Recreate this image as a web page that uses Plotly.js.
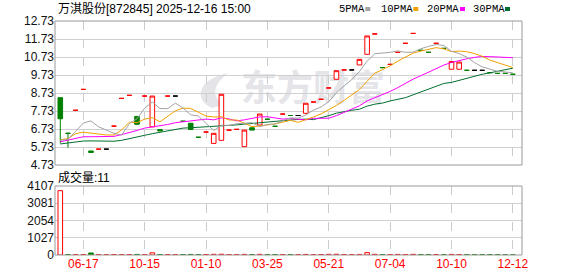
<!DOCTYPE html>
<html><head><meta charset="utf-8">
<script src="https://cdn.plot.ly/plotly-3.0.1.min.js"></script>
<style>html,body{margin:0;padding:0;background:#fff;overflow:hidden}#chart{width:578px;height:276px}</style>
</head><body><div id="chart"></div>
<script>
// ---- data ----
const tickIdx = [3, 11, 19, 27, 35, 43, 51, 59];
const tickLabels = ['06-17', '10-15', '01-10', '03-25', '05-21', '07-04', '10-10', '12-12'];
const priceTicks = [4.73, 5.73, 6.73, 7.73, 8.73, 9.73, 10.73, 11.73, 12.73];
const volTicks = [0, 1027, 2054, 3081, 4107];

const openP = [8.47,6.49,7.77,8.93,5.51,5.61,5.61,6.89,8.43,8.60,
  7.43,8.56,6.85,6.70,8.56,8.56,7.16,7.05,6.27,6.56,
  5.93,6.10,6.67,6.71,5.75,6.80,6.95,7.27,6.88,7.56,
  7.48,7.48,7.60,8.23,8.38,9.01,9.49,10.01,10.01,10.29,
  10.88,12.01,10.14,10.32,10.99,11.49,12.04,11.10,10.99,11.49,
  11.21,10.05,10.05,9.99,9.99,9.99,9.86,9.82,9.82,9.77];
const closeP = [7.30,6.49,7.77,8.93,5.43,5.61,5.61,6.89,8.43,8.60,
  6.99,8.56,8.56,6.62,8.56,8.56,7.16,6.70,6.27,6.56,
  6.49,8.66,6.67,6.71,6.67,6.67,7.56,7.27,6.88,7.56,
  7.48,7.48,8.16,8.23,8.38,9.01,9.97,10.01,10.01,10.60,
  11.90,12.01,10.14,10.32,10.99,11.49,12.04,11.10,10.99,11.49,
  11.21,10.48,10.45,9.99,9.99,9.99,9.86,9.82,9.82,9.77];
const highP = [8.47,6.49,7.77,8.93,5.51,5.61,5.61,6.89,8.43,8.60,
  7.43,8.56,8.56,6.70,8.56,8.56,7.16,7.05,6.27,6.56,
  6.49,8.66,6.67,6.71,6.67,6.80,7.56,7.27,6.88,7.56,
  7.48,7.48,8.16,8.23,8.38,9.01,9.97,10.01,10.01,10.60,
  11.90,12.01,10.14,10.32,10.99,11.49,12.04,11.10,10.99,11.49,
  11.21,10.48,10.45,9.99,9.99,9.99,9.86,9.82,9.82,9.77];
const lowP = [5.93,5.69,7.77,8.93,5.43,5.61,5.61,6.89,8.43,8.60,
  6.99,8.56,6.85,6.62,8.56,8.56,7.16,6.70,6.27,6.56,
  5.93,6.10,6.67,6.71,5.75,6.67,6.95,7.27,6.88,7.56,
  7.48,7.48,7.60,8.23,8.38,9.01,9.49,10.01,10.01,10.29,
  10.88,12.01,10.14,10.32,10.99,11.49,12.04,11.10,10.99,11.49,
  11.21,10.05,10.05,9.99,9.99,9.99,9.86,9.82,9.82,9.77];
// candle colour class: up = red, down = green, flat = black
const dir = ['down','down','up','up','down','up','flat','up','up','up',
  'down','up','up','down','up','flat','down','down','down','up',
  'up','up','up','up','up','down','up','down','down','up',
  'down','flat','up','up','up','up','up','up','flat','up',
  'up','up','down','up','up','up','up','down','down','up',
  'down','up','up','down','flat','flat','down','down','down','down'];

const ma5 = [6.10,6.16,6.60,7.06,7.18,6.85,6.67,6.49,6.39,7.03,
  7.30,7.89,8.23,7.87,7.86,8.17,7.89,7.52,7.45,7.05,
  6.64,6.94,6.93,7.02,7.04,7.08,6.86,6.98,7.01,7.19,
  7.35,7.33,7.51,7.78,7.95,8.25,8.75,9.12,9.48,9.92,
  10.50,10.91,10.93,10.99,11.07,10.99,11.00,11.19,11.32,11.42,
  11.37,11.05,10.92,10.72,10.42,10.18,10.06,9.93,9.90,9.85];
const ma10 = [6.12,6.20,6.47,6.55,6.50,6.45,6.40,6.40,6.68,7.11,
  7.08,7.28,7.36,7.13,7.44,7.74,7.89,7.87,7.66,7.45,
  7.40,7.41,7.23,7.23,7.05,6.86,6.90,6.95,7.01,7.11,
  7.21,7.10,7.24,7.40,7.57,7.80,8.04,8.32,8.63,8.93,
  9.38,9.83,10.03,10.24,10.50,10.74,10.95,11.06,11.16,11.25,
  11.18,11.03,11.06,11.02,10.92,10.77,10.56,10.43,10.31,10.14];
const ma20 = [6.02,6.10,6.22,6.30,6.30,6.30,6.30,6.32,6.42,6.52,
  6.65,6.78,6.85,6.88,6.98,7.08,7.13,7.17,7.22,7.28,
  7.24,7.35,7.29,7.18,7.24,7.30,7.40,7.41,7.34,7.28,
  7.31,7.26,7.24,7.32,7.31,7.33,7.47,7.64,7.82,8.02,
  8.29,8.46,8.64,8.82,9.03,9.27,9.50,9.69,9.89,10.09,
  10.28,10.43,10.54,10.63,10.71,10.76,10.75,10.74,10.73,10.69];
const ma30 = [5.90,5.96,6.02,6.06,6.07,6.06,6.05,6.05,6.10,6.18,
  6.28,6.38,6.47,6.55,6.64,6.73,6.78,6.80,6.82,6.84,
  6.86,6.90,6.93,6.96,7.00,7.04,7.07,7.11,7.17,7.23,
  7.23,7.26,7.28,7.25,7.35,7.47,7.61,7.71,7.77,7.83,
  8.00,8.11,8.17,8.29,8.37,8.47,8.63,8.78,8.93,9.10,
  9.26,9.32,9.44,9.55,9.66,9.77,9.85,9.93,10.03,10.11];

const volume = [3830,30,25,30,120,25,20,30,25,30,
  35,25,130,30,25,20,30,35,25,30,
  40,45,25,20,35,30,40,25,30,25,
  30,20,35,25,30,40,45,30,20,35,
  140,40,30,25,35,30,40,30,25,30,
  25,35,30,25,20,20,25,20,15,11];
const volDir = ['up','down','up','up','down','up','up','up','up','up',
  'down','up','up','down','up','up','down','down','down','up',
  'up','up','up','up','up','down','up','down','down','up',
  'down','up','up','up','up','up','up','up','up','up',
  'up','up','down','up','up','up','up','down','down','up',
  'down','up','up','down','down','down','down','down','down','down'];
const lastVolume = 11;

// ---- styling ----
const RED = '#ff0000', GREEN = '#008000', BLACK = '#000000';
const styles = {
  up: {line: RED, fill: '#ffffff'},
  down: {line: GREEN, fill: GREEN},
  flat: {line: BLACK, fill: BLACK}
};
const idx = closeP.map((_, i) => i);
const traces = [];

const maDefs = [
  {name: '30PMA', y: ma30, color: '#006f2e'},
  {name: '20PMA', y: ma20, color: '#ff00ff'},
  {name: '10PMA', y: ma10, color: '#f2a100'},
  {name: '5PMA', y: ma5, color: '#a3a3a3'}
];
maDefs.forEach(m => traces.push({
  type: 'scatter', mode: 'lines', x: idx, y: m.y, name: m.name,
  line: {color: m.color, width: 1}, hoverinfo: 'skip', xaxis: 'x', yaxis: 'y'
}));

['up', 'down', 'flat'].forEach(k => {
  const ids = idx.filter(i => dir[i] === k);
  const s = styles[k];
  const st = {line: {color: s.line, width: 1}, fillcolor: s.fill};
  traces.push({
    type: 'candlestick', x: ids,
    open: ids.map(i => openP[i]), high: ids.map(i => highP[i]),
    low: ids.map(i => lowP[i]), close: ids.map(i => closeP[i]),
    increasing: st, decreasing: st, whiskerwidth: 0,
    hoverinfo: 'skip', xaxis: 'x', yaxis: 'y'
  });
});

['up', 'down'].forEach(k => {
  const ids = idx.filter(i => volDir[i] === k);
  const s = styles[k];
  traces.push({
    type: 'bar', x: ids, y: ids.map(i => volume[i]), width: 0.6,
    marker: {color: s.fill, line: {color: s.line, width: 1}},
    hoverinfo: 'skip', xaxis: 'x', yaxis: 'y2'
  });
});

// pixel -> paper helpers (plot area: x 55..522, y 21..255)
const PX = px => (px - 55) / 467;
const PY = py => (255 - py) / 234;

const FONT = 'Liberation Sans, Arial, Noto Sans CJK SC, sans-serif';
const annotations = [
  {text: '万淇股份[872845] 2025-12-16 15:00', x: PX(56), y: PY(9.5)},
  {text: '成交量:' + lastVolume, x: PX(56), y: PY(177.5)}
].map(a => Object.assign({xref: 'paper', yref: 'paper', xanchor: 'left', yanchor: 'middle',
  showarrow: false, font: {family: FONT, size: 12, color: '#000'}}, a));

const legendItems = [
  {t: '5PMA', tx: 338, sq: 365.3, c: '#a3a3a3'},
  {t: '10PMA', tx: 380, sq: 413.3, c: '#f2a100'},
  {t: '20PMA', tx: 425.5, sq: 460, c: '#ff00ff'},
  {t: '30PMA', tx: 471.5, sq: 505, c: '#006f2e'}
];
const shapes = [];
legendItems.forEach(l => {
  annotations.push({text: l.t, x: PX(l.tx - 1), y: PY(9.5), xref: 'paper', yref: 'paper',
    xanchor: 'left', yanchor: 'middle', showarrow: false,
    font: {family: 'Liberation Mono, DejaVu Sans Mono, monospace', size: 10.5, color: '#000'}});
  shapes.push({type: 'rect', xref: 'paper', yref: 'paper', x0: PX(l.sq), x1: PX(l.sq + 5),
    y0: PY(11), y1: PY(7), fillcolor: l.c, line: {width: 0}});
});

// watermark (behind the data)
shapes.push({type: 'rect', xref: 'paper', yref: 'paper', layer: 'below',
  x0: PX(238), x1: PX(388), y0: PY(110), y1: PY(72), line: {width: 0}, fillcolor: 'rgba(0,0,0,0)',
  label: {text: '东方财富', textposition: 'middle center',
    font: {family: 'Noto Sans CJK SC', size: 36, color: '#e4e4e9', weight: 'bold'}}});
const p = (x, y) => PX(x) + ',' + PY(y);
shapes.push({type: 'path', xref: 'paper', yref: 'paper', layer: 'below',
  path: 'M' + p(212, 108) + ' C' + p(194, 100) + ' ' + p(196, 80) + ' ' + p(228, 73) +
        ' C' + p(214, 84) + ' ' + p(210, 96) + ' ' + p(224, 105) + ' Z',
  fillcolor: '#e4e4e9', line: {width: 0}});

// subplot frames
shapes.push({type: 'rect', xref: 'x domain', yref: 'y domain', x0: 0, x1: 1, y0: 0, y1: 1,
  line: {color: '#999999', width: 1}, layer: 'above'});
shapes.push({type: 'rect', xref: 'x domain', yref: 'y2 domain', x0: 0, x1: 1, y0: 0, y1: 1,
  line: {color: '#999999', width: 1}, layer: 'above'});

const tickFont = {family: 'Liberation Sans, Arial, sans-serif', size: 12, color: '#111'};
const layout = {
  width: 578, height: 276,
  margin: {l: 55, r: 56, t: 21, b: 21, pad: 0},
  paper_bgcolor: '#ffffff', plot_bgcolor: '#ffffff',
  showlegend: false, boxgap: 0.4, boxgroupgap: 0, boxmode: 'overlay',
  xaxis: {
    domain: [0, 1], anchor: 'y2', type: 'linear', range: [-0.69, 60.19],
    tickmode: 'array', tickvals: tickIdx, ticktext: tickLabels,
    tickfont: {family: 'Liberation Sans, Arial, sans-serif', size: 12, color: RED},
    showgrid: true, gridcolor: '#cccccc', griddash: 'dash', gridwidth: 1,
    zeroline: false, showline: false, ticks: '', rangeslider: {visible: false}, fixedrange: true
  },
  yaxis: {
    domain: [PY(165), 1], anchor: 'x', range: [4.73, 12.73],
    tickmode: 'array', tickvals: priceTicks, ticktext: priceTicks.map(v => v.toFixed(2)),
    tickfont: tickFont, showgrid: true, gridcolor: '#d0d0d0', zeroline: false,
    showline: false, ticks: '', fixedrange: true
  },
  yaxis2: {
    domain: [0, PY(186)], anchor: 'x', range: [0, 4107],
    tickmode: 'array', tickvals: volTicks, ticktext: volTicks.map(String),
    tickfont: tickFont, showgrid: true, gridcolor: '#d0d0d0', zeroline: false,
    showline: false, ticks: '', fixedrange: true
  },
  annotations: annotations,
  shapes: shapes
};

Plotly.newPlot('chart', traces, layout, {staticPlot: true, displayModeBar: false});
</script></body></html>
